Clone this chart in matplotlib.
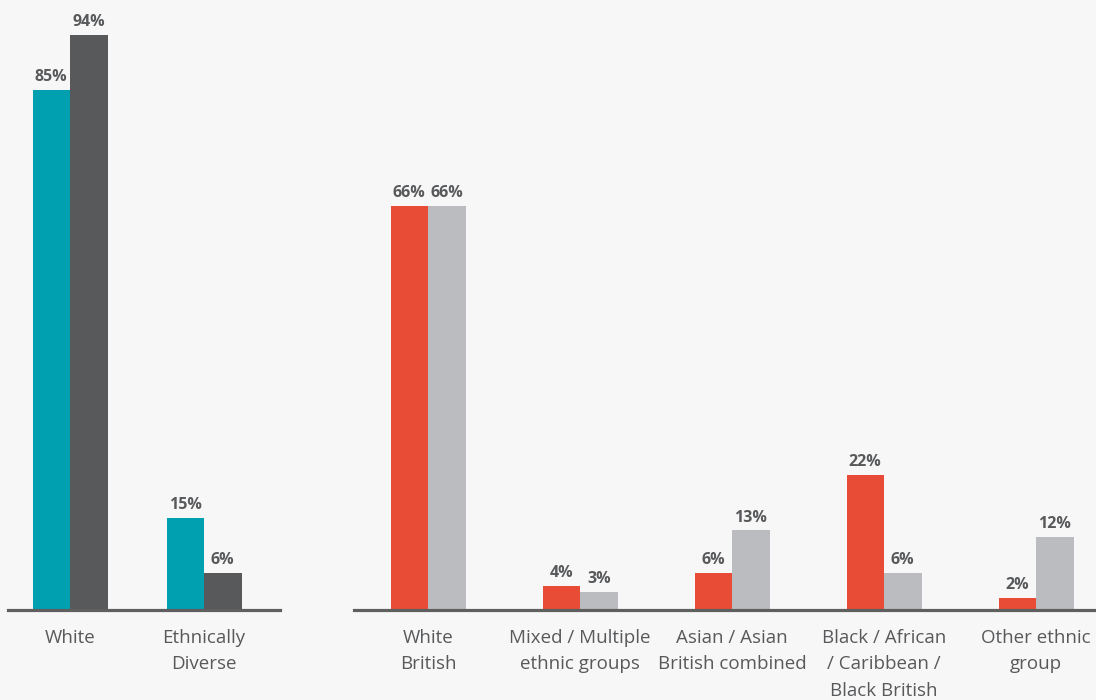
import matplotlib
matplotlib.use("Agg")
import matplotlib.pyplot as plt
import numpy as np

# Overall split
overall_categories = ["White", "Ethnically\nDiverse"]
overall_a = [85, 15]
overall_b = [94, 6]

# Detailed breakdown
detail_categories = ["White\nBritish", "Mixed / Multiple\nethnic groups",
                     "Asian / Asian\nBritish combined",
                     "Black / African\n/ Caribbean /\nBlack British",
                     "Other ethnic\ngroup"]
detail_a = [66, 4, 6, 22, 2]
detail_b = [66, 3, 13, 6, 12]

BG = "#f7f7f7"
TEAL = "#00a0b0"
DARK = "#58595b"
RED = "#e84c36"
LIGHT = "#bbbcbf"
TEXT = "#58595b"
AXIS = "#5f5f5f"

plt.rcParams["font.family"] = ["Open Sans", "DejaVu Sans"]

W, H = 1096, 700
fig = plt.figure(figsize=(W / 100, H / 100), dpi=100, facecolor=BG)

base_px = 610
px_per_pct = 6.12
ytop = base_px / px_per_pct


def make_axes(x0, x1, c0, unit):
    ax = fig.add_axes([x0 / W, 1 - base_px / H, (x1 - x0) / W, base_px / H])
    ax.set_facecolor(BG)
    ax.set_xlim((x0 - c0) / unit, (x1 - c0) / unit)
    ax.set_ylim(0, ytop)
    for s in ["top", "right", "left"]:
        ax.spines[s].set_visible(False)
    ax.spines["bottom"].set_color(AXIS)
    ax.spines["bottom"].set_linewidth(2.3)
    ax.set_yticks([])
    ax.tick_params(axis="x", length=0, pad=13.5, labelsize=13.5, labelcolor=TEXT)
    return ax


def draw(ax, cats, a, b, ca, cb, bw):
    x = np.arange(len(cats))
    ba = ax.bar(x - bw / 2, a, width=bw, color=ca, zorder=2)
    bb = ax.bar(x + bw / 2, b, width=bw, color=cb, zorder=2)
    for bars, vals in ((ba, a), (bb, b)):
        for r, v in zip(bars, vals):
            ax.annotate(f"{v}%", (r.get_x() + r.get_width() / 2, v),
                        xytext=(0, 3.5), textcoords="offset points",
                        ha="center", va="bottom", fontsize=11.5,
                        fontweight="bold", color=TEXT)
    ax.set_xticks(x)
    ax.set_xticklabels(cats, va="top", ha="center", linespacing=1.6)


ax1 = make_axes(8, 280, 70, 134)
draw(ax1, overall_categories, overall_a, overall_b, TEAL, DARK, 37.5 / 134)

ax2 = make_axes(354, 1096, 428, 152)
draw(ax2, detail_categories, detail_a, detail_b, RED, LIGHT, 37.5 / 152)

fig.savefig("out.png", dpi=100, facecolor=BG)
